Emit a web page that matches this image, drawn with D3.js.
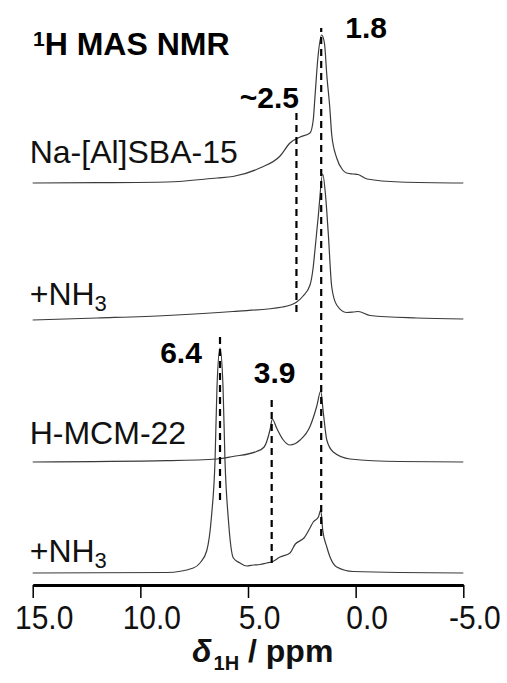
<!DOCTYPE html>
<html>
<head>
<meta charset="utf-8">
<script src="https://cdn.jsdelivr.net/npm/d3@7"></script>
<style>
body { margin: 0; background: #fff; }
svg { display: block; font-family: "Liberation Sans", Arial, sans-serif; }
</style>
</head>
<body>
<svg class="js-render-chart" width="507" height="683"></svg>
<script>
"use strict";

//data (ppm, intensity above each trace baseline)

const sampleNames = ["Na-[Al]SBA-15", "+NH3", "H-MCM-22", "+NH3"];
const sampleOffsets = [402, 265, 123, 12];

const naSba = [
  [15, 0], [12, 0.3], [8.76, 1], [6.44, 5], [5.7, 6.5], [4.45, 15], [3.51, 27],
  [3.05, 40], [2.58, 46], [2.12, 50], [1.97, 63], [1.89, 86], [1.75, 126],
  [1.58, 148], [1.45, 140], [1.34, 108], [1.2, 75], [1.11, 48], [0.88, 25],
  [0.6, 13], [0.42, 10], [0.12, 9], [-0.11, 8.5], [-0.53, 4], [-2.06, 1], [-5, 0]
];

const naSbaNh3 = [
  [15, 0], [12, 2], [8.76, 4.5], [5.7, 8.5], [3.4, 13], [2.77, 17.5], [2.44, 24],
  [2.12, 35], [1.97, 53], [1.89, 70], [1.74, 103], [1.53, 146], [1.4, 125],
  [1.27, 86], [1.11, 33], [0.88, 15], [0.42, 7.5], [0.1, 8], [-0.12, 8.5],
  [-0.67, 4.5], [-2.84, 2], [-5, 1]
];

const hMcm = [
  [15, 0], [8.76, 1.3], [6.44, 3], [5.7, 5.5], [4.6, 10.5], [4.25, 15], [3.98, 32],
  [3.87, 43], [3.67, 34], [3.36, 22], [3.05, 17], [2.58, 22], [2.12, 35.5],
  [1.81, 55.5], [1.62, 71], [1.5, 49], [1.34, 22], [1.04, 10], [0.26, 3],
  [-2.06, 0.5], [-5, 0]
];

const hMcmNh3 = [
  [15, 0], [8.76, 0.5], [7.54, 5], [7.23, 10], [6.92, 22], [6.69, 58], [6.53, 113],
  [6.44, 186], [6.3, 225], [6.16, 186], [6.07, 113], [5.91, 53], [5.68, 15],
  [5.37, 10], [5.06, 7], [4.75, 8], [4.44, 8.5], [4.13, 10], [3.9, 11], [3.51, 16],
  [3.05, 20], [2.8, 29], [2.6, 32], [2.4, 35], [2.12, 45], [1.97, 51], [1.73, 56],
  [1.62, 63], [1.53, 43], [1.34, 26], [1.19, 16], [0.88, 6], [0.11, 1.5], [-5, 0]
];

const traces = [naSba, naSbaNh3, hMcm, hMcmNh3];

const peakPpm = [1.6, 2.75, 6.3, 3.9];
const peakLabels = ["1.8", "~2.5", "6.4", "3.9"];

const tickValues = [15, 10, 5, 0, -5];
const tickLabels = ["15.0", "10.0", "5.0", "0.0", "-5.0"];

//scales

const x = d3.scaleLinear().domain([15, -5]).range([32.7, 463.3]);
const y = d3.scaleLinear().domain([0, 560]).range([585, 25]);

const svg = d3.select(".js-render-chart");

//traces

const line = (off) => d3.line()
  .x((d) => x(d[0]))
  .y((d) => y(d[1] + off))
  .curve(d3.curveMonotoneX);

svg.append("g")
  .selectAll("path")
  .data(traces)
  .join("path")
  .attr("d", (d, i) => line(sampleOffsets[i])(d))
  .attr("fill", "none")
  .attr("stroke", "#3a3a3a")
  .attr("stroke-width", 1.2);

//sample labels

const labelDy = [-20, -15, -18, -11];

const names = svg.append("g")
  .attr("font-size", 32)
  .attr("fill", "#111")
  .selectAll("text")
  .data(sampleNames)
  .join("text")
  .attr("x", x(15) - 3)
  .attr("y", (d, i) => y(sampleOffsets[i]) + labelDy[i]);

names.each(function (d) {
  const t = d3.select(this);
  if (/NH3$/.test(d)) {
    t.append("tspan").text(d.slice(0, -1));
    t.append("tspan").attr("font-size", 22).attr("dy", 6).text("3");
  } else {
    t.text(d);
  }
});

//peak markers

const spans = [[49, 557], [273, 473], [85, 252], [22, 187]];
const textDx = [45, -27, -39, 3];
const textDy = [10, -4, 30, -15];

const marks = svg.append("g");

marks.selectAll("line")
  .data(peakPpm)
  .join("line")
  .attr("x1", (d) => x(d))
  .attr("x2", (d) => x(d))
  .attr("y1", (d, i) => y(spans[i][0]))
  .attr("y2", (d, i) => y(spans[i][1]))
  .attr("stroke", "#000")
  .attr("stroke-width", 2.2)
  .attr("stroke-dasharray", "7,5");

marks.selectAll("text")
  .data(peakLabels)
  .join("text")
  .attr("x", (d, i) => x(peakPpm[i]) + textDx[i])
  .attr("y", (d, i) => y(spans[i][1]) + textDy[i])
  .attr("text-anchor", "middle")
  .attr("font-size", 30)
  .attr("font-weight", "bold")
  .text((d) => d);

//title

const title = svg.append("text")
  .attr("x", 33)
  .attr("y", 55)
  .attr("font-weight", "bold")
  .attr("font-size", 32);

title.append("tspan").attr("font-size", 21).attr("dy", -9).text("1");
title.append("tspan").attr("dy", 9).text("H MAS NMR");

//axis

const xa = d3.axisBottom(x)
  .tickValues(tickValues)
  .tickFormat((d, i) => tickLabels[i])
  .tickSize(13)
  .tickSizeOuter(0);

const axis = svg.append("g")
  .attr("transform", `translate(0, ${y(0)})`)
  .call(xa);

axis.select(".domain").attr("stroke-width", 3).attr("stroke", "#000");
axis.selectAll(".tick line").attr("stroke-width", 1.5).attr("stroke", "#000");
axis.selectAll(".tick text")
  .attr("font-family", "Liberation Sans, Arial, sans-serif")
  .attr("font-size", 30)
  .attr("fill", "#111")
  .attr("y", 0)
  .attr("dy", 0)
  .attr("dx", 11)
  .attr("transform", "translate(0, 44) scale(1, 1.12)");

const axisTitle = svg.append("text")
  .attr("x", 192)
  .attr("y", 662)
  .attr("font-weight", "bold")
  .attr("font-size", 32)
  .attr("fill", "#111");

axisTitle.append("tspan").attr("font-style", "italic").text("δ");
axisTitle.append("tspan").attr("font-size", 20).attr("dy", 8).attr("dx", 2).text("1H");
axisTitle.append("tspan").attr("dy", -8).text(" / ppm");
</script>
</body>
</html>
